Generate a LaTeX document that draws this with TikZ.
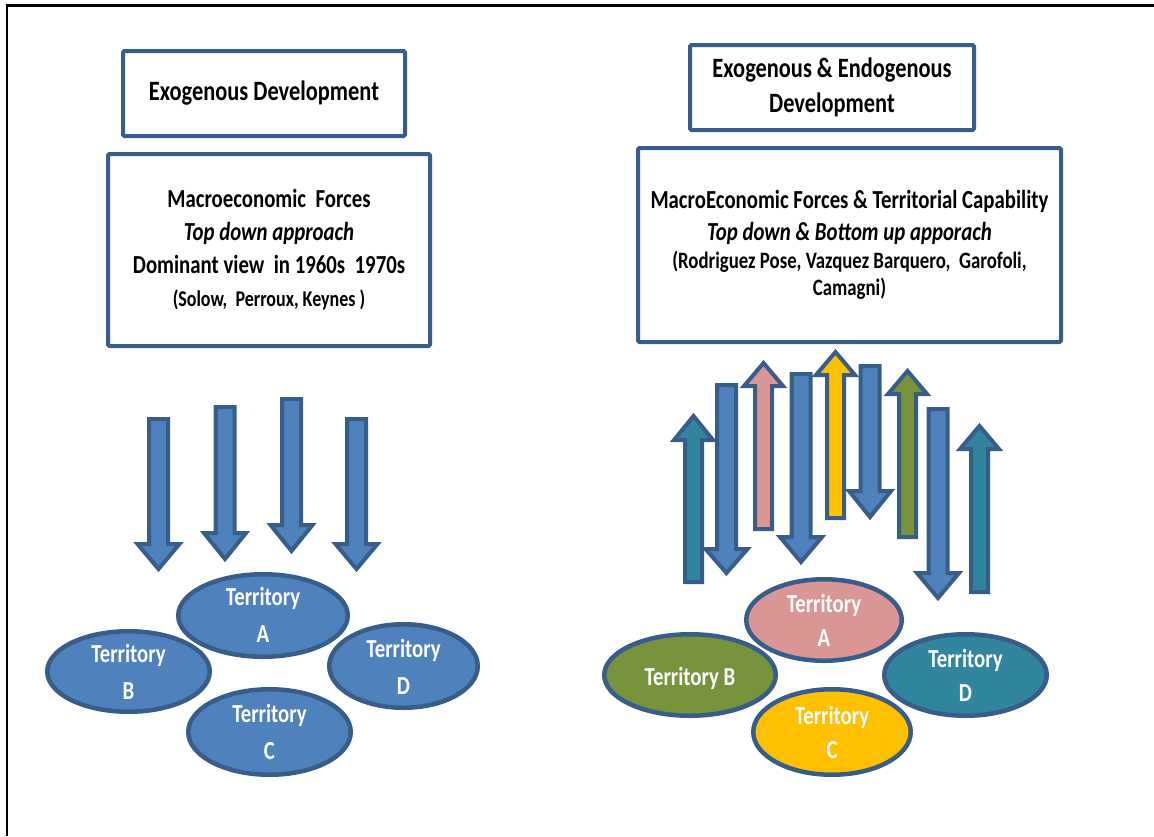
\documentclass[tikz,border=0pt]{standalone}
\usepackage{fontspec}
\setmainfont{Carlito}
\usepackage{graphicx}
\usetikzlibrary{shapes.geometric}

\definecolor{edgeblue}{HTML}{385D8A}
\definecolor{fillblue}{HTML}{4F81BD}
\definecolor{tealc}{HTML}{31859C}
\definecolor{pinkc}{HTML}{D99694}
\definecolor{yellowc}{HTML}{FFC000}
\definecolor{greenc}{HTML}{77933C}

% narrow the lettering, as in the slide
\newcommand\narrow[1]{\scalebox{0.8}[1]{#1}}

% block arrows: centre x, tail y, head base y, tip y, fill colour
\newcommand\arrdown[5]{%
  \filldraw[blk, fill=#5] ({#1-9.5},#2) -- ({#1+9.5},#2) -- ({#1+9.5},#3) --
    ({#1+21},#3) -- (#1,#4) -- ({#1-21},#3) -- ({#1-9.5},#3) -- cycle;}
\newcommand\arrup[5]{%
  \filldraw[blk, fill=#5] ({#1-8.5},#2) -- ({#1+8.5},#2) -- ({#1+8.5},#3) --
    ({#1+19.5},#3) -- (#1,#4) -- ({#1-19.5},#3) -- ({#1-8.5},#3) -- cycle;}

\tikzset{
  frame/.style={draw=edgeblue, line width=4pt, rounded corners=1.5pt, fill=white,
    inner sep=0pt, align=center},
  terr/.style={ellipse, draw=edgeblue, line width=4.5pt, inner sep=0pt},
  tlab/.style={text=white, inner sep=0pt, font=\fontsize{26}{37}\selectfont\bfseries},
  blk/.style={draw=edgeblue, line width=4pt, line join=miter},
}

\begin{document}
\begin{tikzpicture}[x=1pt, y=-1pt]
\useasboundingbox (0,0) rectangle (1154,836);

% page frame
\draw[line width=2.5pt] (7,836) -- (7,5.5) -- (1154,5.5);

% ---------- left panel ----------
\node[frame, minimum width=282, minimum height=85,
      font=\fontsize{28}{35}\selectfont\bfseries] (exo) at (264,93.5)
  {\narrow{Exogenous Development}};

\node[frame, minimum width=322, minimum height=192,
      font=\fontsize{26}{33}\selectfont\bfseries] (macro) at (269,250)
  {\narrow{\begin{tabular}{@{}c@{}}
    Macroeconomic\ \ Forces\\
    \itshape Top down approach\\
    Dominant view\ \ in 1960s\ \ 1970s\\
    \fontsize{22.5}{33}\selectfont (Solow,\ \ Perroux, Keynes )
  \end{tabular}}};

\arrdown{158.5}{419}{544}{569}{fillblue}
\arrdown{225}{407}{533}{559}{fillblue}
\arrdown{291.5}{399}{525}{551}{fillblue}
\arrdown{356.5}{419}{544}{569}{fillblue}

\node[terr, fill=fillblue, minimum width=162.5, minimum height=80.5] (lB) at (128.5,671.5) {};
\node[terr, fill=fillblue, minimum width=148.5, minimum height=83.5] (lD) at (403.5,666) {};
\node[terr, fill=fillblue, minimum width=169.5, minimum height=82.5] (lA) at (263,615.5) {};
\node[terr, fill=fillblue, minimum width=162.5, minimum height=85.5] (lC) at (269.5,732) {};

\node[tlab] (lAt) at ([yshift=-1]lA.center) {\narrow{\begin{tabular}{@{}c@{}}Territory\\A\end{tabular}}};
\node[tlab] (lBt) at ([yshift=-2]lB.center) {\narrow{\begin{tabular}{@{}c@{}}Territory\\B\end{tabular}}};
\node[tlab] (lCt) at ([yshift=-1.5]lC.center) {\narrow{\begin{tabular}{@{}c@{}}Territory\\C\end{tabular}}};
\node[tlab] (lDt) at ([yshift=-3]lD.center) {\narrow{\begin{tabular}{@{}c@{}}Territory\\D\end{tabular}}};

% ---------- right panel ----------
\node[frame, minimum width=284, minimum height=85,
      font=\fontsize{28}{35}\selectfont\bfseries] (exoendo) at (832,87.5)
  {\narrow{\begin{tabular}{@{}c@{}}Exogenous \& Endogenous\\Development\end{tabular}}};

\node[frame, minimum width=423, minimum height=194,
      font=\fontsize{26}{33}\selectfont\bfseries] (macroterr) at (849.5,245)
  {\narrow{\begin{tabular}{@{}c@{}}
    MacroEconomic Forces \& Territorial Capability\\[-1pt]
    \itshape Top down \& Bottom up apporach\\[-5pt]
    \fontsize{23.5}{33}\selectfont (Rodriguez Pose, Vazquez Barquero, \ Garofoli,\\[-6pt]
    \fontsize{23.5}{33}\selectfont Camagni)
  \end{tabular}}};

\arrup{693.5}{582}{440}{416}{tealc}
\arrdown{726.5}{385}{549}{573}{fillblue}
\arrup{763.5}{529}{386}{363}{pinkc}
\arrdown{801}{374}{537}{562}{fillblue}
\arrup{835.5}{518}{375}{352}{yellowc}
\arrdown{870}{366}{491}{517}{fillblue}
\arrup{907.5}{537}{394}{371}{greenc}
\arrdown{938}{409}{573}{598}{fillblue}
\arrup{979.5}{592}{449}{426}{tealc}

\node[terr, fill=pinkc, minimum width=155.5, minimum height=81.5] (rA) at (824,620) {};
\node[terr, fill=tealc, minimum width=162.5, minimum height=81.5] (rD) at (965.5,675) {};
\node[terr, fill=greenc, minimum width=171.5, minimum height=81.5] (rB) at (690,675) {};
\node[terr, fill=yellowc, minimum width=157.5, minimum height=85.5] (rC) at (832,732) {};

\node[tlab, font=\fontsize{26}{34}\selectfont\bfseries] (rAt) at ([yshift=-2.5]rA.center)
  {\narrow{\begin{tabular}{@{}c@{}}Territory\\A\end{tabular}}};
\node[tlab] (rBt) at ([yshift=-3]rB.center) {\narrow{Territory B}};
\node[tlab, font=\fontsize{26}{34}\selectfont\bfseries] (rCt) at ([yshift=-2.5]rC.center)
  {\narrow{\begin{tabular}{@{}c@{}}Territory\\C\end{tabular}}};
\node[tlab, font=\fontsize{26}{34}\selectfont\bfseries] (rDt) at ([yshift=-2.5]rD.center)
  {\narrow{\begin{tabular}{@{}c@{}}Territory\\D\end{tabular}}};

\end{tikzpicture}
\end{document}
